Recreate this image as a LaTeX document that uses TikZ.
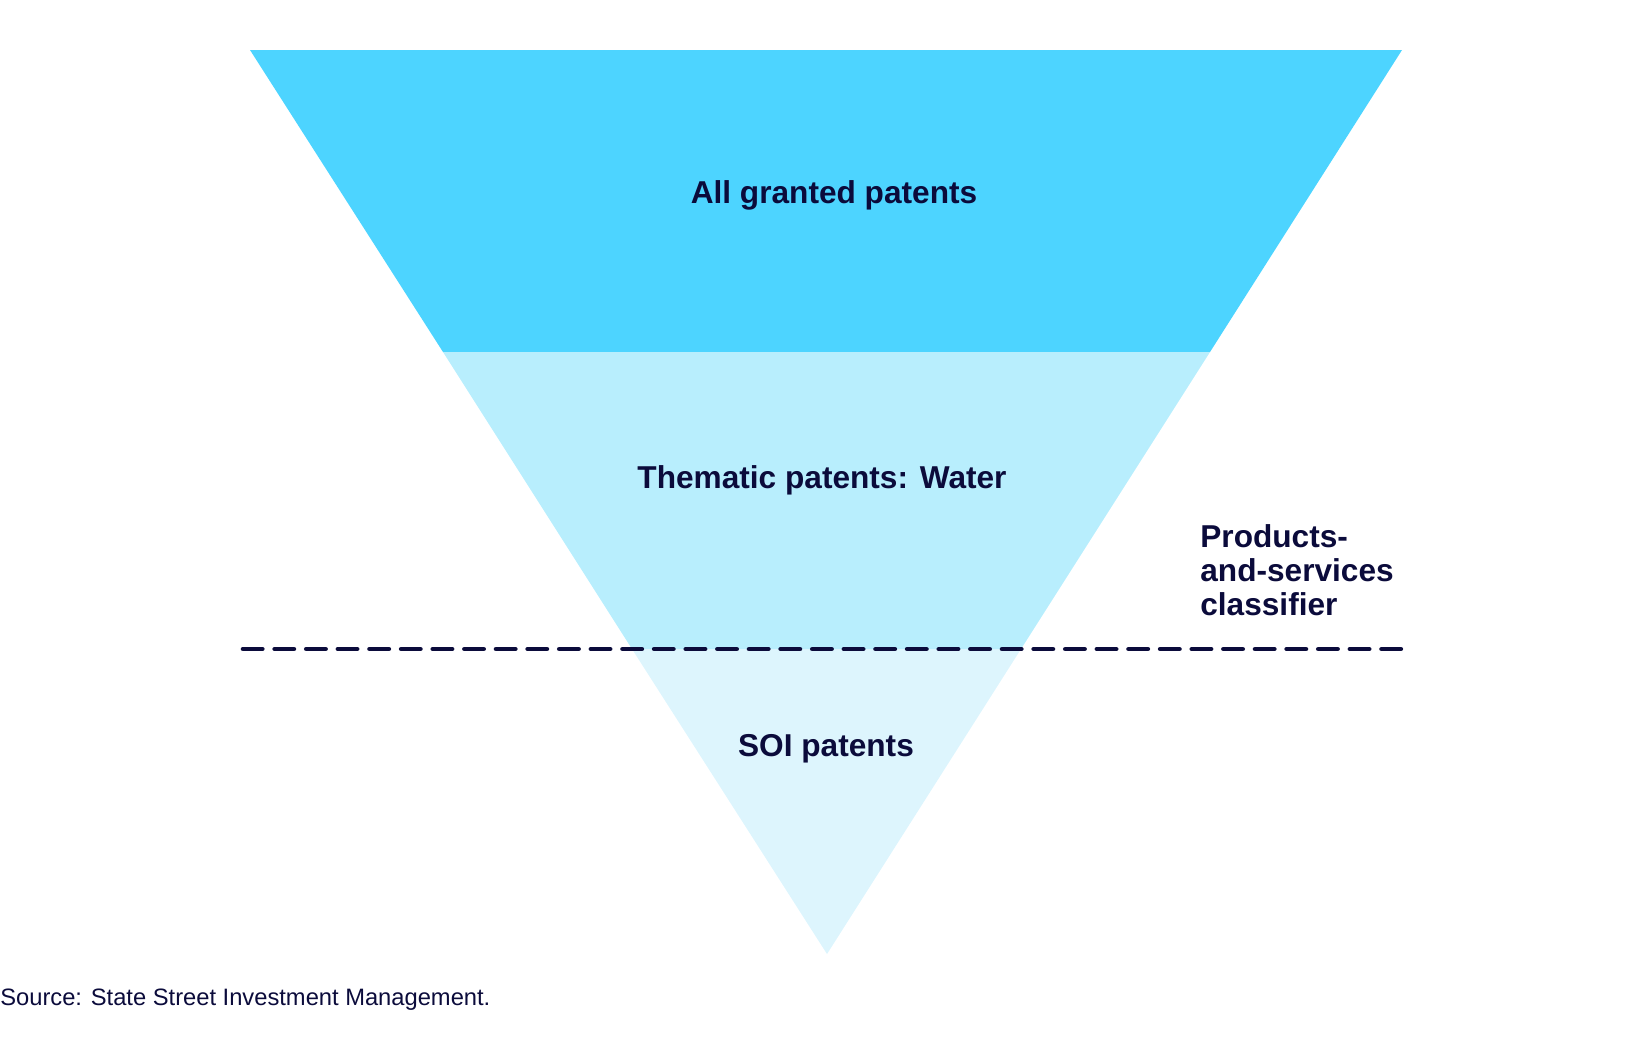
\documentclass[tikz,border=0pt]{standalone}
\usepackage{fontspec}
\setmainfont{Liberation Sans}
\definecolor{navy}{HTML}{0B0B3B}
\definecolor{topblue}{HTML}{4DD4FF}
\definecolor{midblue}{HTML}{B8EEFD}
\definecolor{lowblue}{HTML}{DDF5FD}
\newcommand{\px}{0.02cm}
\begin{document}
\begin{tikzpicture}[x=\px, y=-\px,
    label/.style={text=navy, font=\bfseries\fontsize{18}{22}\selectfont, inner sep=0pt},
    divider/.style={navy, line width=2.6pt, line cap=round, dash pattern=on 11pt off 7pt}]
    \useasboundingbox (0,0) rectangle (1648,1046);
    % corners of the funnel
    \coordinate (tl) at (250,50);
    \coordinate (tr) at (1402,50);
    \coordinate (ml) at (443,352);
    \coordinate (mr) at (1210,352);
    \coordinate (ll) at (632,649);
    \coordinate (lr) at (1021,649);
    \coordinate (apex) at (827,954);

    % bands
    \fill[topblue] (tl) -- (tr) -- (mr) -- (ml) -- cycle;
    \fill[midblue] (ml) -- (mr) -- (lr) -- (ll) -- cycle;
    \fill[lowblue] (ll) -- (lr) -- (apex) -- cycle;

    % dashed classifier line
    \coordinate (dash-l) at (243,649);
    \coordinate (dash-r) at (1407,649);
    \draw[divider] (dash-l) -- (dash-r);

    \node[label] (all) at (834,195) {All granted patents};
    \node[label] (thematic) at (822,480) {Thematic patents: Water};
    \node[label] (soi) at (826,749) {SOI patents};
    \node[label, anchor=north west, align=left, font=\bfseries\fontsize{18}{19.5}\selectfont] (classifier) at (1200,524) {Products-\\and-services\\classifier};

    \node[text=navy, anchor=west, inner sep=0pt, font=\fontsize{13.5}{16}\selectfont] (source) at (0,1000) {Source: State Street Investment Management.};
\end{tikzpicture}
\end{document}
